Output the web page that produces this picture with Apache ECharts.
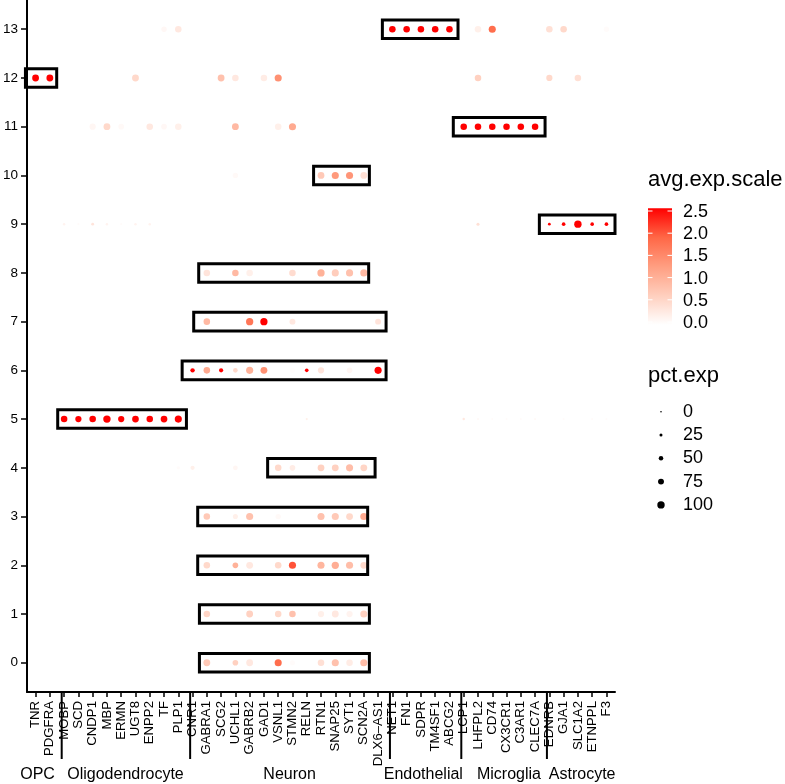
<!DOCTYPE html>
<html><head><meta charset="utf-8">
<script src="https://cdn.jsdelivr.net/npm/echarts@6/dist/echarts.min.js"></script>
<style>html,body{margin:0;padding:0;background:#fff}#c{width:785px;height:784px}</style>
</head><body><div id="c"></div>
<script>
// ---------- data ----------
const genes = ['TNR','PDGFRA','MOBP','SCD','CNDP1','MBP','ERMN','UGT8','ENPP2','TF','PLP1',
  'CNR1','GABRA1','SCG2','UCHL1','GABRB2','GAD1','VSNL1','STMN2','RELN','RTN1','SNAP25','SYT1','SCN2A','DLX6–AS1',
  'NET1','FN1','SDPR','TM4SF1','ABCG2','LCP1','LHFPL2','CD74','CX3CR1','C3AR1','CLEC7A',
  'EDNRB','GJA1','SLC1A2','ETNPPL','F3'];
const groups = ['OPC','Oligodendrocyte','Neuron','Endothelial','Microglia','Astrocyte'];
const groupSizes = [2, 9, 14, 5, 6, 5];
const clusters = ['0','1','2','3','4','5','6','7','8','9','10','11','12','13'];

// per cluster: [gene, avg.exp.scale, pct.exp]
const c0 = [['GABRA1',0.7,90],['UCHL1',0.6,70],['GABRB2',0.3,90],['VSNL1',1.8,95],['STMN2',0.05,60],['RTN1',0.4,85],['SNAP25',0.8,95],['SYT1',0.25,85],['SCN2A',0.85,95]];
const c1 = [['GABRA1',0.55,85],['GABRB2',0.6,90],['VSNL1',0.5,85],['STMN2',0.8,85],['RTN1',0.2,80],['SNAP25',0.3,90],['SYT1',0.15,80],['SCN2A',0.6,95]];
const c2 = [['GABRA1',0.5,85],['UCHL1',1.0,70],['GABRB2',0.3,90],['VSNL1',0.5,85],['STMN2',2.0,95],['RTN1',0.95,95],['SNAP25',1.05,98],['SYT1',0.85,95],['SCN2A',0.5,90]];
const c3 = [['GABRA1',0.7,85],['UCHL1',0.2,60],['GABRB2',0.8,95],['VSNL1',0.08,65],['RTN1',0.8,95],['SNAP25',0.7,95],['SYT1',0.5,90],['SCN2A',1.1,95]];
const c4 = [['PLP1',0.05,30],['CNR1',0.2,45],['UCHL1',0.12,55],['VSNL1',0.5,85],['STMN2',0.25,70],['RTN1',0.6,90],['SNAP25',0.6,90],['SYT1',0.85,95],['SCN2A',0.55,90]];
const c5 = [['MOBP',2.5,85],['SCD',2.5,80],['CNDP1',2.5,85],['MBP',2.5,100],['ERMN',2.5,80],['UGT8',2.5,88],['ENPP2',2.5,85],['TF',2.5,88],['PLP1',2.5,95],
  ['RELN',0.2,10],['LCP1',0.3,15],['LHFPL2',0.08,8],['CD74',0.05,8],['CX3CR1',0.05,8],['C3AR1',0.05,8],['CLEC7A',0.08,8],['GJA1',0.05,8],['ETNPPL',0.05,8],['F3',0.05,8]];
const c6 = [['CNR1',2.5,48],['GABRA1',1.1,85],['SCG2',2.5,45],['UCHL1',0.5,52],['GABRB2',1.0,95],['GAD1',1.4,90],['STMN2',0.03,60],['RELN',2.5,35],['RTN1',0.35,80],['SYT1',0.12,70],['DLX6–AS1',2.5,95]];
const c7 = [['GABRA1',0.9,85],['GABRB2',1.7,98],['GAD1',2.5,98],['STMN2',0.3,75],['DLX6–AS1',0.35,75]];
const c8 = [['GABRA1',0.35,85],['UCHL1',0.9,85],['GABRB2',0.2,85],['STMN2',0.45,85],['RTN1',1.0,98],['SNAP25',0.65,95],['SYT1',0.8,95],['SCN2A',0.9,95]];
const c9 = [['MOBP',0.15,15],['SCD',0.05,10],['CNDP1',0.35,22],['MBP',0.15,15],['ERMN',0.05,10],['UGT8',0.15,15],['ENPP2',0.15,15],['LHFPL2',0.4,25],
  ['EDNRB',2.5,20],['GJA1',2.5,35],['SLC1A2',2.5,100],['ETNPPL',2.5,35],['F3',2.5,35]];
const c10 = [['UCHL1',0.08,65],['RTN1',0.7,90],['SNAP25',1.3,95],['SYT1',1.35,95],['SCN2A',0.4,90]];
const c11 = [['CNDP1',0.12,80],['MBP',0.5,90],['ERMN',0.08,70],['ENPP2',0.3,85],['TF',0.1,70],['PLP1',0.2,85],['UCHL1',0.9,90],['VSNL1',0.2,85],['STMN2',1.1,95],
  ['LCP1',2.5,85],['LHFPL2',2.5,85],['CD74',2.5,85],['CX3CR1',2.5,85],['C3AR1',2.5,85],['CLEC7A',2.5,85]];
const c12 = [['TNR',2.5,90],['PDGFRA',2.5,90],['UGT8',0.5,90],['SCG2',0.8,90],['UCHL1',0.3,85],['GAD1',0.25,85],['VSNL1',1.4,95],['LHFPL2',0.6,85],['EDNRB',0.5,80],['SLC1A2',0.4,85]];
const c13 = [['TF',0.1,65],['PLP1',0.3,85],['NET1',2.5,85],['FN1',2.5,85],['SDPR',2.5,85],['TM4SF1',2.5,85],['ABCG2',2.5,85],['LHFPL2',0.2,85],['CD74',1.8,95],['EDNRB',0.4,85],['GJA1',0.5,85],['F3',0.05,65]];
const clusterDots = [c0,c1,c2,c3,c4,c5,c6,c7,c8,c9,c10,c11,c12,c13];

// highlight boxes: [cluster, from, to] in gene-index units
const boxes = [[12,-0.71,1.48],[13,24.3,29.6],[11,29.27,35.7],[10,19.48,23.39],[9,35.3,40.6],
  [8,11.43,23.34],[7,11.08,24.56],[6,10.27,24.56],[5,1.55,10.57],[4,16.26,23.79],
  [3,11.36,23.27],[2,11.36,23.27],[1,11.48,23.39],[0,11.48,23.39]];

const colorTicks = [0, 0.5, 1.0, 1.5, 2.0, 2.5];
const sizeTicks = [0, 25, 50, 75, 100];

// ---------- build ----------
const FONT = "'Liberation Sans', Arial, Helvetica, sans-serif";
const COLORS = ['#FFFFFF','#FFCFBE','#FF9E81','#FF6746','#FF0000'];
const sizeOf = p => 1.6 + p * 0.058;
const groupLabelShift = [-0.66, 0, 0, -0.13, 0.37, 0];

const points = [];
clusterDots.forEach((arr, ci) => arr.forEach(d => points.push([genes.indexOf(d[0]), ci, d[1], d[2]])));

const chart = echarts.init(document.getElementById('c'), null, {renderer: 'canvas'});
const geneIdx = genes.map((g, i) => i);
const clusterIdx = clusters.map((c, i) => i);

chart.setOption({
  animation: false,
  backgroundColor: '#fff',
  grid: {left: 26, right: 170, top: 0, bottom: 92},
  xAxis: {
    type: 'value', min: -0.6, max: genes.length - 0.4,
    splitLine: {show: false},
    axisLine: {onZero: false, lineStyle: {color: '#000', width: 2}},
    axisTick: {customValues: geneIdx, length: 5, lineStyle: {color: '#000', width: 1.5}},
    axisLabel: {customValues: geneIdx, rotate: 90, margin: 9, fontSize: 13.2, color: '#000', fontFamily: FONT,
      formatter: v => genes[Math.round(v)]}
  },
  yAxis: {
    type: 'value', min: -0.6, max: clusters.length - 0.4,
    splitLine: {show: false},
    axisLine: {onZero: false, lineStyle: {color: '#000', width: 2}},
    axisTick: {customValues: clusterIdx, length: 6, lineStyle: {color: '#000', width: 1.5}},
    axisLabel: {customValues: clusterIdx, margin: 9, fontSize: 13.5, color: '#000', fontFamily: FONT,
      formatter: v => clusters[Math.round(v)]}
  },
  visualMap: {
    show: false, type: 'continuous', dimension: 2, min: 0, max: 2.5, seriesIndex: 0,
    inRange: {color: COLORS}
  },
  series: [
    {
      type: 'scatter', data: points,
      symbolSize: v => sizeOf(v[3]),
      itemStyle: {opacity: 1}
    },
    {
      type: 'custom', data: boxes, clip: false,
      encode: {x: [1, 2], y: 0},
      renderItem: (params, api) => {
        const r = api.value(0), a = api.value(1), b = api.value(2);
        const p1 = api.coord([a, r + 0.19]);
        const p2 = api.coord([b, r - 0.19]);
        return {type: 'rect', shape: {x: p1[0], y: p1[1], width: p2[0] - p1[0], height: p2[1] - p1[1]},
          style: {fill: null, stroke: '#000', lineWidth: 3}};
      },
      z: 5
    }
  ]
});

// ---------- annotations & legends ----------
const g = [];
const px = (x, y) => chart.convertToPixel({gridIndex: 0}, [x, y]);
let cum = 0;
groups.forEach((name, i) => {
  const start = cum, end = cum + groupSizes[i] - 1;
  cum += groupSizes[i];
  const center = px((start + end) / 2 + 0.3 + groupLabelShift[i], -0.6);
  g.push({type: 'text', x: center[0], y: center[1] + 83,
    style: {text: name, font: '16px ' + FONT, fill: '#000', align: 'center', verticalAlign: 'middle'}});
  if (i < groups.length - 1) {
    const p = px(end + 0.5 + 0.33, -0.6);
    g.push({type: 'line', shape: {x1: p[0], y1: p[1], x2: p[0], y2: p[1] + 67},
      style: {stroke: '#000', lineWidth: 2}});
  }
});

// colour bar legend
const barX = 648, barW = 24, y0 = 322, y25 = 211;
const vy = v => y0 - (v / 2.5) * (y0 - y25);
const ext = 2.8;
g.push({type: 'text', x: 648, y: 179.5, style: {text: 'avg.exp.scale', font: '22px ' + FONT, fill: '#000', verticalAlign: 'middle'}});
g.push({type: 'rect', shape: {x: barX, y: y25 - ext, width: barW, height: (y0 - y25) + 2 * ext},
  style: {fill: new echarts.graphic.LinearGradient(0, 0, 0, 1, COLORS.slice().reverse().map((c, i) => ({offset: i / 4, color: c})))}});
colorTicks.forEach(v => {
  const y = vy(v);
  g.push({type: 'line', shape: {x1: barX, y1: y, x2: barX + 4.5, y2: y}, style: {stroke: '#fff', lineWidth: 1}});
  g.push({type: 'line', shape: {x1: barX + barW - 4.5, y1: y, x2: barX + barW, y2: y}, style: {stroke: '#fff', lineWidth: 1}});
  g.push({type: 'text', x: 683, y: y + 1, style: {text: v.toFixed(1), font: '18px ' + FONT, fill: '#000', verticalAlign: 'middle'}});
});

// size legend
g.push({type: 'text', x: 648, y: 375.5, style: {text: 'pct.exp', font: '22px ' + FONT, fill: '#000', verticalAlign: 'middle'}});
sizeTicks.forEach((v, i) => {
  const y = 411.7 + i * 23.3;
  g.push({type: 'circle', shape: {cx: 661, cy: y, r: sizeOf(v) / 2}, style: {fill: '#000'}});
  g.push({type: 'text', x: 683, y: y, style: {text: String(v), font: '18px ' + FONT, fill: '#000', verticalAlign: 'middle'}});
});

chart.setOption({graphic: g});
</script></body></html>
